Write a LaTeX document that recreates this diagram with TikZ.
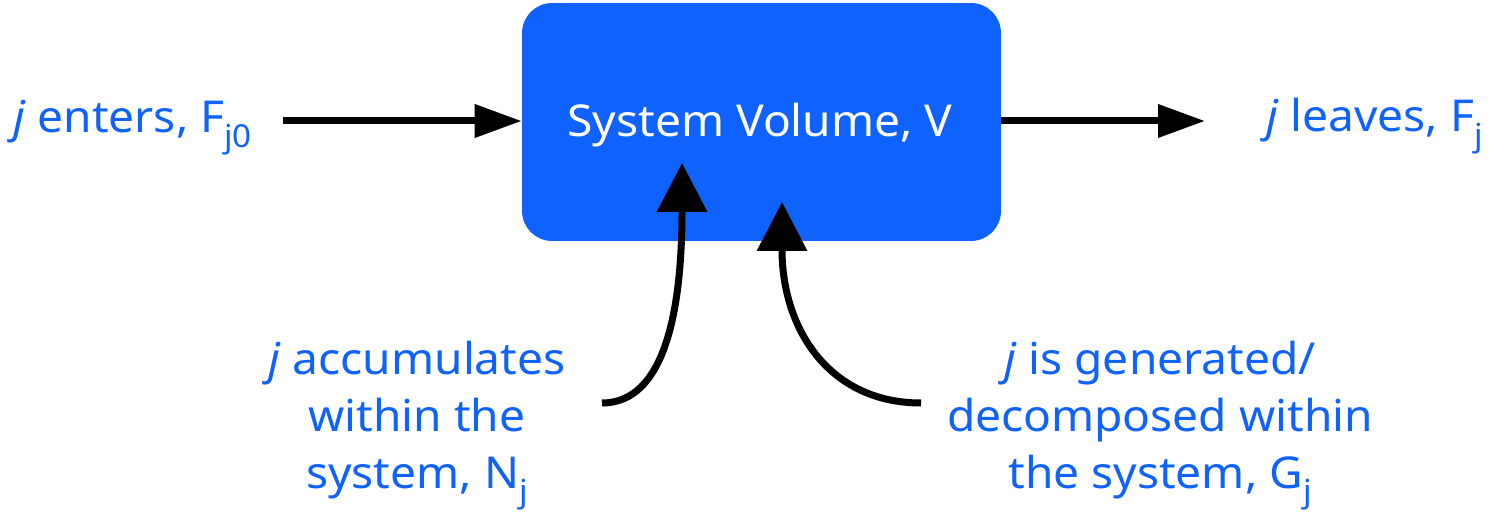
\documentclass[tikz,border=0pt]{standalone}
\usepackage{fontspec}
\setmainfont[FakeStretch=1.05]{Noto Sans}
\usetikzlibrary{arrows.meta}
\definecolor{ibmblue}{HTML}{0F62FE}
\newcommand{\lowsub}[1]{\raisebox{-0.32em}{\fontsize{18pt}{20pt}\selectfont #1}}
\begin{document}
\begin{tikzpicture}[x=0.02cm,y=-0.02cm,
  lbl/.style={text=ibmblue, font=\fontsize{25pt}{32.3pt}\selectfont, inner sep=0pt},
  flow/.style={line width=0.14cm, -{Triangle[length=0.94cm,width=0.64cm]}},
  curv/.style={line width=0.14cm, -{Triangle[length=0.98cm,width=0.98cm]}}]
\useasboundingbox (0,0) rectangle (1496,520);
\node[fill=ibmblue, rounded corners=0.6cm, minimum width=9.58cm, minimum height=4.76cm, inner sep=0pt] (sys) at (761.5,122) {};
\node[text=white, font=\fontsize{25pt}{30pt}\selectfont, inner sep=0pt, anchor=base] (syst) at (760,137) {System Volume, V};
\node[lbl, anchor=base west] (in) at (13,133) {\textit{j} enters, F\lowsub{j0}};
\node[lbl, anchor=base east] (out) at (1483,132) {\textit{j} leaves, F\lowsub{j}};
\node[lbl, align=center, anchor=north] (acc) at (417,341) {\textit{j} accumulates\\within the\\system, N\lowsub{j}};
\node[lbl, align=center, anchor=north] (gen) at (1160,341) {\textit{j} is generated/\\decomposed within\\the system, G\lowsub{j}};
\coordinate (inA) at (283,121);
\coordinate (outB) at (1205,121);
\coordinate (accS) at (602,403);
\coordinate (accT) at (682,163);
\coordinate (genS) at (921,403);
\coordinate (genT) at (782,202);
\draw[flow] (inA) -- (sys.west |- inA);
\draw[flow] (sys.east |- outB) -- (outB);
\draw[curv] (accS) .. controls (665,403) and (682,310) .. (accT);
\draw[curv] (genS) .. controls (830,403) and (782,330) .. (genT);
\end{tikzpicture}
\end{document}
